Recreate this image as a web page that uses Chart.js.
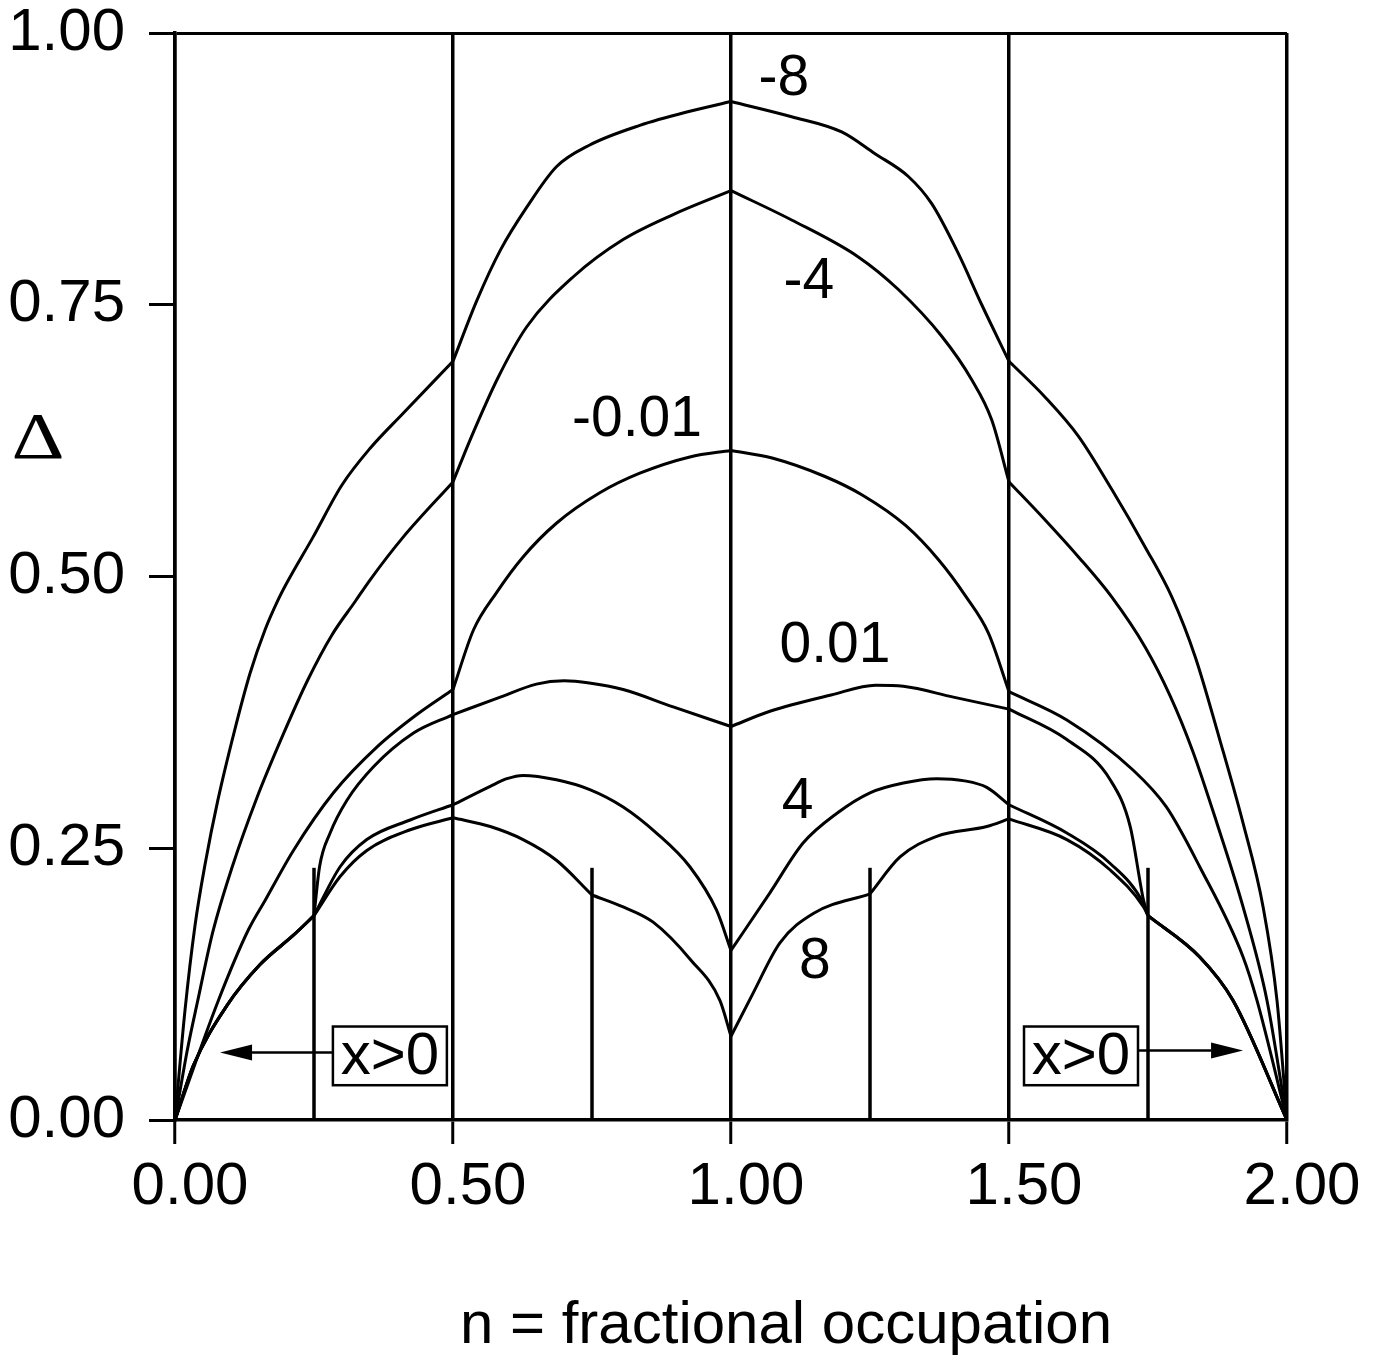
<!DOCTYPE html>
<html>
<head>
<meta charset="utf-8">
<title>Delta vs fractional occupation</title>
<script src="https://cdn.jsdelivr.net/npm/chart.js@4.4.1/dist/chart.umd.min.js"></script>
<style>
    html, body { margin: 0; padding: 0; background: #fff; overflow: hidden; }
    #wrap { width: 1380px; height: 1361px; }
</style>
</head>
<body>
<div id="wrap"><canvas id="chart"></canvas></div>
<script>
// Values: n (fractional occupation) and Delta for each curve
const m8N = [0, 0.018, 0.036, 0.054, 0.077, 0.106, 0.135, 0.162, 0.185, 0.201, 0.248, 0.300, 0.351, 0.410, 0.5, 0.543, 0.585, 0.633, 0.686, 0.746, 0.836, 0.926, 1.0, 1.109, 1.199, 1.259, 1.319, 1.361, 1.409, 1.451, 1.5, 1.565, 1.625, 1.685, 1.745, 1.793, 1.835, 1.879, 1.921, 1.957, 1.982, 2.0];
const m8D = [0, 0.101, 0.179, 0.235, 0.294, 0.356, 0.411, 0.451, 0.478, 0.494, 0.536, 0.584, 0.618, 0.650, 0.698, 0.754, 0.800, 0.840, 0.877, 0.897, 0.915, 0.928, 0.937, 0.923, 0.909, 0.889, 0.868, 0.843, 0.797, 0.750, 0.698, 0.665, 0.629, 0.580, 0.527, 0.481, 0.426, 0.350, 0.273, 0.196, 0.110, 0];

const m4N = [0, 0.022, 0.041, 0.068, 0.103, 0.147, 0.194, 0.239, 0.282, 0.324, 0.351, 0.410, 0.5, 0.531, 0.582, 0.633, 0.717, 0.806, 0.896, 1.0, 1.109, 1.229, 1.301, 1.379, 1.433, 1.469, 1.5, 1.565, 1.625, 1.685, 1.745, 1.790, 1.830, 1.874, 1.921, 1.964, 2.0];
const m4D = [0, 0.064, 0.110, 0.173, 0.233, 0.296, 0.354, 0.405, 0.446, 0.477, 0.497, 0.536, 0.587, 0.626, 0.684, 0.730, 0.776, 0.810, 0.833, 0.855, 0.828, 0.794, 0.764, 0.721, 0.681, 0.644, 0.587, 0.552, 0.518, 0.481, 0.435, 0.390, 0.340, 0.273, 0.196, 0.110, 0];

const m001N = [0, 0.078, 0.132, 0.162, 0.213, 0.285, 0.363, 0.435, 0.5, 0.537, 0.578, 0.626, 0.686, 0.764, 0.836, 0.926, 1.0, 1.074, 1.169, 1.236, 1.314, 1.374, 1.422, 1.463, 1.5, 1.604, 1.723, 1.783, 1.843, 1.921, 1.946, 2.0];
const m001D = [0, 0.110, 0.175, 0.202, 0.248, 0.301, 0.343, 0.373, 0.396, 0.451, 0.485, 0.518, 0.549, 0.577, 0.595, 0.610, 0.616, 0.609, 0.592, 0.575, 0.547, 0.515, 0.482, 0.448, 0.394, 0.368, 0.322, 0.288, 0.233, 0.150, 0.110, 0];

const p001N = [0, 0.033, 0.093, 0.153, 0.213, 0.25, 0.260, 0.279, 0.309, 0.357, 0.429, 0.5, 0.585, 0.650, 0.700, 0.745, 0.806, 0.896, 1.0, 1.070, 1.180, 1.260, 1.310, 1.400, 1.5, 1.604, 1.682, 1.718, 1.742, 1.75, 1.843, 1.903, 2.0];
const p001D = [0, 0.050, 0.105, 0.143, 0.170, 0.188, 0.233, 0.264, 0.294, 0.325, 0.356, 0.373, 0.389, 0.401, 0.404, 0.402, 0.396, 0.380, 0.362, 0.376, 0.391, 0.400, 0.399, 0.389, 0.378, 0.350, 0.313, 0.270, 0.202, 0.188, 0.150, 0.110, 0];

const p4N = [0, 0.033, 0.093, 0.153, 0.213, 0.25, 0.297, 0.345, 0.423, 0.5, 0.567, 0.597, 0.626, 0.686, 0.746, 0.806, 0.866, 0.926, 0.974, 1.0, 1.070, 1.130, 1.190, 1.250, 1.310, 1.370, 1.420, 1.460, 1.5, 1.604, 1.682, 1.742, 1.75, 1.843, 1.903, 2.0];
const p4D = [0, 0.050, 0.105, 0.143, 0.170, 0.188, 0.233, 0.258, 0.276, 0.290, 0.307, 0.314, 0.317, 0.313, 0.304, 0.288, 0.264, 0.233, 0.193, 0.156, 0.209, 0.255, 0.282, 0.301, 0.310, 0.314, 0.312, 0.306, 0.290, 0.264, 0.236, 0.199, 0.188, 0.150, 0.110, 0];

const p8N = [0, 0.033, 0.093, 0.153, 0.213, 0.25, 0.297, 0.345, 0.423, 0.5, 0.567, 0.626, 0.686, 0.75, 0.806, 0.860, 0.928, 0.980, 1.0, 1.040, 1.088, 1.148, 1.25, 1.304, 1.370, 1.460, 1.5, 1.604, 1.682, 1.742, 1.75, 1.843, 1.903, 2.0];
const p8D = [0, 0.050, 0.105, 0.143, 0.170, 0.188, 0.224, 0.248, 0.267, 0.278, 0.270, 0.258, 0.239, 0.207, 0.196, 0.182, 0.147, 0.110, 0.077, 0.117, 0.163, 0.190, 0.208, 0.242, 0.261, 0.270, 0.277, 0.258, 0.230, 0.196, 0.188, 0.150, 0.110, 0];

// Curve labels (parameter values) and where they sit, in data units
const curveNames = ['-8', '-4', '-0.01', '0.01', '4', '8'];
const labelN = [1.095, 1.140, 0.831, 1.187, 1.120, 1.151];
const labelD = [0.957, 0.771, 0.644, 0.436, 0.292, 0.145];

// Short vertical markers at quarter fillings
const markerN = [0.25, 0.75, 1.25, 1.75];
const markerTop = 0.232;

// Tick values
const xTicks = [0, 0.5, 1.0, 1.5, 2.0];
const yTicks = [0, 0.25, 0.5, 0.75, 1.0];

// "x>0" boxes with arrows
const boxText = 'x>0';
const boxN = [[0.284, 0.489], [1.527, 1.732]];
const boxD = [0.032, 0.086];
const arrowTipN = [0.081, 1.921];
const arrowD = [0.062, 0.064];

const FONT = '"Liberation Sans", Arial, Helvetica, sans-serif';

// Split a curve into pieces at its cusps so the smoothing keeps them sharp
function splitCurve(xs, ys, breaks) {
    const pieces = [];
    let cur = [];
    xs.forEach((x, i) => {
        cur.push({ x: x, y: ys[i] });
        if (i > 0 && i < xs.length - 1 && breaks.includes(x)) {
            pieces.push(cur);
            cur = [{ x: x, y: ys[i] }];
        }
    });
    pieces.push(cur);
    return pieces;
}

const curves = [
    { n: m8N, d: m8D, breaks: [0.5, 1.0, 1.5] },
    { n: m4N, d: m4D, breaks: [0.5, 1.0, 1.5] },
    { n: m001N, d: m001D, breaks: [0.5, 1.0, 1.5] },
    { n: p001N, d: p001D, breaks: [0.25, 0.5, 1.0, 1.5, 1.75] },
    { n: p4N, d: p4D, breaks: [0.25, 0.5, 1.0, 1.5, 1.75] },
    { n: p8N, d: p8D, breaks: [0.25, 0.5, 0.75, 1.0, 1.25, 1.5, 1.75] }
];

const datasets = [];
curves.forEach(c => {
    splitCurve(c.n, c.d, c.breaks).forEach(piece => {
        datasets.push({
            data: piece,
            borderColor: '#000',
            borderWidth: 3,
            pointRadius: 0,
            fill: false,
            cubicInterpolationMode: 'monotone'
        });
    });
});
markerN.forEach(n => {
    datasets.push({
        data: [{ x: n, y: 0 }, { x: n, y: markerTop }],
        borderColor: '#000',
        borderWidth: 3.5,
        pointRadius: 0,
        fill: false
    });
});

// White page behind the chart
const whiteBackground = {
    id: 'whiteBackground',
    beforeDraw(chart) {
        const ctx = chart.ctx;
        ctx.save();
        ctx.fillStyle = '#fff';
        ctx.fillRect(0, 0, chart.width, chart.height);
        ctx.restore();
    }
};

// Curve labels, axis symbols and the x>0 boxes
const annotations = {
    id: 'annotations',
    afterDatasetsDraw(chart) {
        const ctx = chart.ctx;
        const xs = chart.scales.x;
        const ys = chart.scales.y;
        ctx.save();
        ctx.fillStyle = '#000';
        ctx.strokeStyle = '#000';
        ctx.textAlign = 'center';
        ctx.textBaseline = 'middle';

        ctx.font = '57px ' + FONT;
        curveNames.forEach((t, i) => {
            ctx.fillText(t, xs.getPixelForValue(labelN[i]), ys.getPixelForValue(labelD[i]));
        });

        // boxes and arrows
        boxN.forEach((b, i) => {
            const x0 = xs.getPixelForValue(b[0]);
            const x1 = xs.getPixelForValue(b[1]);
            const y0 = ys.getPixelForValue(boxD[1]);
            const y1 = ys.getPixelForValue(boxD[0]);
            ctx.fillStyle = '#fff';
            ctx.fillRect(x0, y0, x1 - x0, y1 - y0);
            ctx.lineWidth = 2.5;
            ctx.strokeRect(x0, y0, x1 - x0, y1 - y0);
            ctx.fillStyle = '#000';
            ctx.font = '60px ' + FONT;
            ctx.fillText(boxText, (x0 + x1) / 2, (y0 + y1) / 2 + 2);

            const ay = ys.getPixelForValue(arrowD[i]);
            const tip = xs.getPixelForValue(arrowTipN[i]);
            const start = i === 0 ? x0 : x1;
            const dir = tip < start ? -1 : 1;
            const base = tip - dir * 32;
            ctx.lineWidth = 2.5;
            ctx.beginPath();
            ctx.moveTo(start, ay);
            ctx.lineTo(base, ay);
            ctx.stroke();
            ctx.beginPath();
            ctx.moveTo(tip, ay);
            ctx.lineTo(base, ay - 8);
            ctx.lineTo(base, ay + 8);
            ctx.closePath();
            ctx.fill();
        });

        // y axis symbol
        ctx.save();
        ctx.translate(38, ys.getPixelForValue(0.625));
        ctx.scale(1.25, 1);
        ctx.font = '66px "Liberation Serif", "Times New Roman", serif';
        ctx.fillText('\u0394', 0, 0);
        ctx.restore();

        // x axis title
        ctx.font = '60px ' + FONT;
        ctx.textBaseline = 'alphabetic';
        ctx.fillText('n = fractional occupation', xs.getPixelForValue(1.0) + 55, chart.height - 18);
        ctx.restore();
    }
};

const ctx = document.getElementById('chart').getContext('2d');
const chart = new Chart(ctx, {
    type: 'line',
    data: { datasets: datasets },
    options: {
        responsive: true,
        maintainAspectRatio: false,
        animation: false,
        layout: { padding: { left: 0, top: 33, right: 93, bottom: 0 } },
        plugins: {
            legend: { display: false },
            tooltip: { enabled: false }
        },
        scales: {
            x: {
                type: 'linear',
                min: 0,
                max: 2,
                afterFit: s => { s.height = 241; },
                afterBuildTicks: s => { s.ticks = xTicks.map(v => ({ value: v })); },
                ticks: {
                    callback: v => Number(v).toFixed(2),
                    color: '#000',
                    font: { family: FONT, size: 60, lineHeight: 1 },
                    padding: 13,
                    labelOffset: 15,
                    maxRotation: 0,
                    autoSkip: false
                },
                grid: {
                    color: '#000',
                    lineWidth: 3.5,
                    tickLength: 24,
                    tickColor: '#000',
                    tickWidth: 3
                },
                border: { display: true, color: '#000', width: 3.5 }
            },
            y: {
                min: 0,
                max: 1,
                afterFit: s => { s.width = 175; },
                afterBuildTicks: s => { s.ticks = yTicks.map(v => ({ value: v })); },
                ticks: {
                    callback: v => Number(v).toFixed(2),
                    color: '#000',
                    // small line height keeps the label overhang from pushing the plot down
                    font: { family: FONT, size: 60, lineHeight: 0.2 },
                    padding: 24,
                    autoSkip: false
                },
                grid: {
                    // only the top edge is drawn across the plot
                    color: c => (c.tick && c.tick.value === 1 ? '#000' : 'rgba(0,0,0,0)'),
                    lineWidth: 3,
                    tickLength: 26,
                    tickColor: '#000',
                    tickWidth: 3
                },
                border: { display: true, color: '#000', width: 3.5 }
            }
        }
    },
    plugins: [whiteBackground, annotations]
});
</script>
</body>
</html>
